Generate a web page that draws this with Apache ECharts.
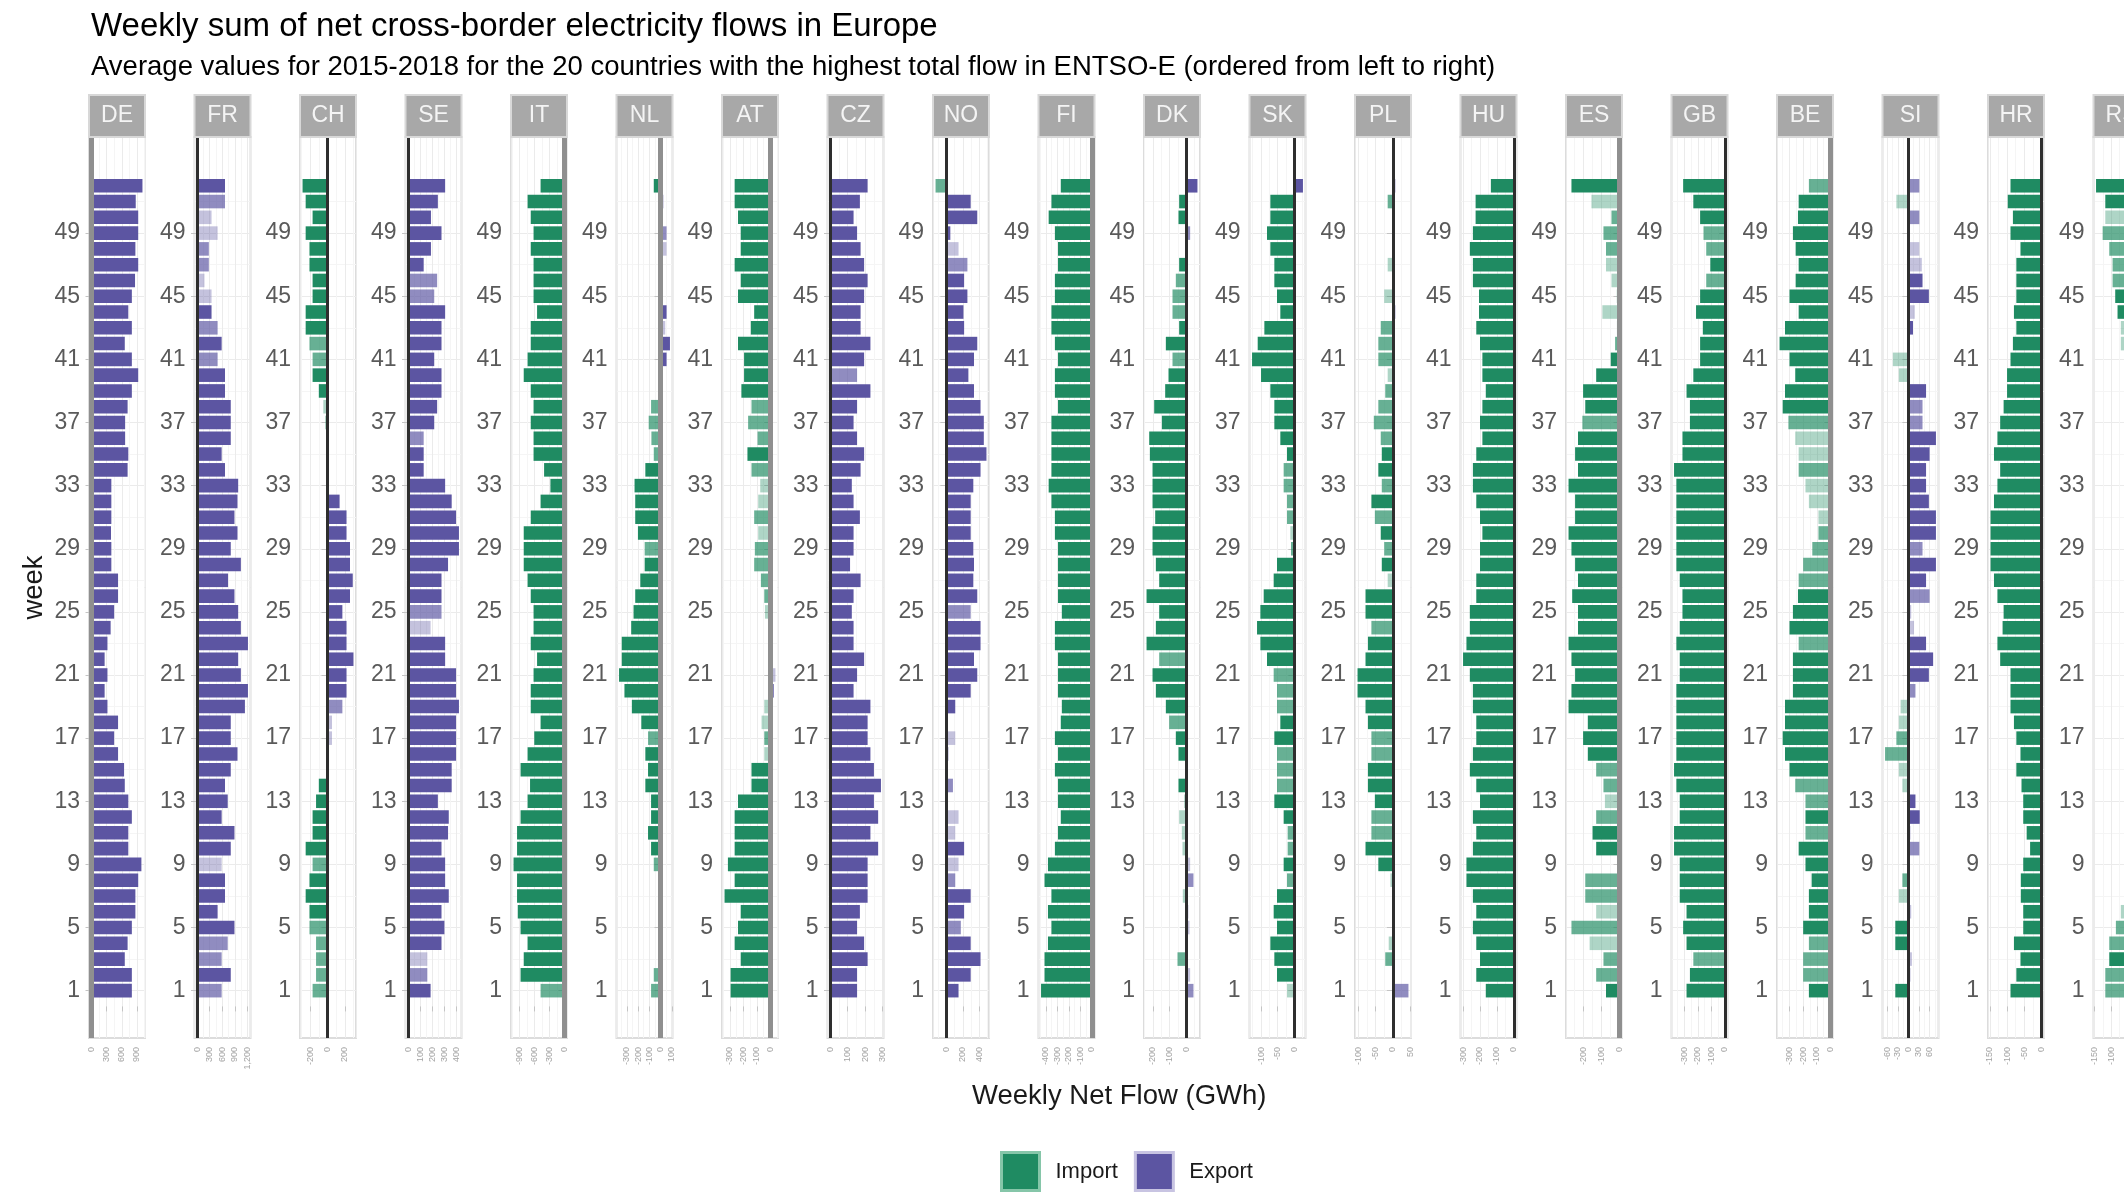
<!DOCTYPE html>
<html>
<head>
<meta charset="utf-8">
<script src="https://cdn.jsdelivr.net/npm/echarts@6/dist/echarts.min.js"></script>
<style>
html,body{margin:0;padding:0;background:#fff;}
#chart{width:2124px;height:1194px;}
</style>
</head>
<body>
<div id="chart"></div>
<script>
// ---------------- DATA ----------------
const countries = ['DE','FR','CH','SE','IT','NL','AT','CZ','NO','FI','DK','SK','PL','HU','ES','GB','BE','SI','HR','RS'];
const weeks = [1,2,3,4,5,6,7,8,9,10,11,12,13,14,15,16,17,18,19,20,21,22,23,24,25,26,27,28,29,30,31,32,33,34,35,36,37,38,39,40,41,42,43,44,45,46,47,48,49,50,51,52];
const majorWeekTicks = [1,5,9,13,17,21,25,29,33,37,41,45,49];
const minorWeekTicks = [3,7,11,15,19,23,27,31,35,39,43,47,51];

// weekly net flow (GWh), weeks 1..52; negative = import, positive = export
const flowDE = [798,798,658,714,798,868,868,924,987,728,728,798,728,658,644,525,448,525,315,259,315,259,315,378,448,525,525,392,392,385,392,392,392,714,728,665,665,714,798,924,798,658,798,728,798,861,924,868,924,924,875,1008];
const flowFR = [584,800,584,728,888,488,664,664,584,800,888,584,728,664,800,960,800,800,1136,1208,1040,976,1208,1040,976,888,736,1040,800,960,888,960,976,664,584,800,800,800,664,664,488,584,488,344,344,176,280,280,488,344,664,664];
const flowCH = [-172,-132,-132,-132,-208,-208,-252,-208,-172,-252,-172,-172,-132,-100,0,0,52,52,172,220,220,300,220,220,172,260,292,260,260,220,220,140,0,8,8,-12,-28,-48,-100,-172,-172,-208,-252,-252,-172,-172,-208,-208,-252,-172,-252,-288];
const flowSE = [186,159,159,276,300,276,336,306,306,276,330,336,246,360,360,396,396,396,420,396,396,306,306,186,276,276,276,330,420,420,396,360,306,129,129,129,216,240,276,276,216,276,276,306,216,240,129,189,276,189,246,306];
const flowIT = [-476,-875,-812,-735,-875,-931,-945,-945,-1015,-945,-945,-875,-735,-686,-875,-735,-602,-476,-672,-672,-616,-546,-672,-616,-616,-672,-735,-812,-812,-812,-672,-476,-280,-406,-616,-616,-672,-616,-672,-812,-735,-672,-672,-546,-616,-616,-616,-672,-616,-672,-735,-476];
const flowNL = [-84,-60,0,0,0,15,0,-21,-60,-84,-111,-84,-84,-135,-111,-135,-111,-171,-255,-321,-369,-345,-345,-261,-240,-225,-180,-141,-141,-201,-225,-225,-231,-135,-60,-81,-105,-84,0,0,54,84,42,54,0,15,15,54,54,18,24,-60];
const flowAT = [-295,-295,-220,-265,-240,-220,-340,-265,-315,-265,-265,-265,-240,-140,-140,-45,-45,-65,-45,25,38,0,0,0,-40,-45,-70,-120,-115,-90,-120,-90,-75,-140,-170,-95,-165,-140,-215,-195,-195,-240,-145,-120,-240,-220,-265,-220,-220,-240,-265,-265];
const flowCZ = [154,154,214,194,154,170,214,214,214,274,230,274,250,290,250,230,214,214,230,134,154,194,134,134,124,134,174,114,134,134,170,134,124,174,194,154,134,154,230,154,194,230,174,174,194,214,194,174,154,134,170,214];
const flowNO = [148,296,416,296,176,216,296,108,148,216,108,148,0,80,0,28,108,0,108,296,376,336,416,416,296,376,328,336,328,296,296,296,328,416,488,456,456,416,336,268,336,376,216,208,256,216,256,148,48,376,296,-132];
const flowFI = [-441,-411,-411,-381,-351,-381,-351,-411,-381,-321,-294,-270,-294,-294,-321,-294,-321,-270,-261,-294,-294,-294,-321,-321,-261,-294,-294,-294,-294,-321,-321,-351,-375,-351,-351,-351,-351,-294,-321,-321,-294,-321,-351,-351,-321,-321,-294,-294,-321,-375,-351,-270];
const flowDK = [44,24,-52,0,20,12,-20,44,24,-22,-26,-42,-12,-46,0,-46,-62,-102,-122,-182,-202,-162,-238,-182,-162,-238,-162,-182,-202,-202,-186,-202,-202,-202,-218,-222,-146,-192,-126,-106,-82,-122,-42,-82,-82,-62,-42,0,24,-46,-42,68];
const flowSK = [-22,-52,-60,-72,-52,-62,-52,-22,-32,-20,-20,-32,-60,-52,-52,-52,-60,-42,-52,-52,-62,-82,-102,-112,-102,-92,-62,-52,-10,-12,-22,-22,-32,-32,-22,-42,-60,-60,-72,-100,-127,-110,-90,-42,-52,-60,-60,-72,-82,-72,-72,26];
const flowPL = [45,0,-22,-12,0,0,0,-7,-42,-79,-62,-62,-52,-72,-72,-62,-62,-72,-79,-102,-102,-79,-72,-62,-79,-79,-15,-32,-25,-35,-52,-62,-32,-42,-32,-35,-55,-42,-22,-15,-42,-42,-35,8,-25,0,-15,0,6,0,-15,8];
const flowHU = [-166,-222,-200,-222,-242,-222,-242,-280,-280,-242,-222,-242,-200,-222,-260,-242,-222,-222,-242,-242,-260,-300,-280,-260,-260,-222,-222,-200,-200,-186,-200,-222,-242,-242,-222,-186,-200,-186,-166,-186,-186,-200,-222,-206,-206,-242,-242,-260,-242,-226,-226,-136];
const flowES = [-74,-128,-88,-164,-264,-128,-188,-188,0,-128,-148,-128,-80,-88,-128,-174,-200,-174,-280,-264,-244,-264,-280,-228,-228,-260,-228,-244,-264,-280,-244,-244,-280,-228,-244,-228,-204,-188,-200,-128,-48,-24,-14,-94,-14,-44,-74,-74,-88,-44,-154,-264];
const flowGB = [-283,-258,-233,-283,-308,-283,-333,-333,-333,-375,-375,-333,-333,-358,-375,-358,-358,-358,-358,-358,-333,-333,-358,-333,-313,-313,-333,-358,-358,-358,-358,-358,-358,-375,-313,-313,-258,-258,-283,-233,-183,-183,-163,-213,-183,-138,-108,-138,-158,-183,-233,-308];
const flowBE = [-158,-200,-200,-158,-200,-158,-158,-138,-183,-233,-183,-183,-183,-258,-300,-333,-350,-333,-333,-275,-275,-275,-233,-300,-275,-238,-233,-200,-133,-88,-88,-158,-183,-233,-233,-258,-308,-350,-333,-258,-300,-373,-333,-233,-300,-255,-233,-255,-275,-238,-233,-158];
const flowSI = [-37,6,10,-37,-37,8,-27,-17,0,31,6,32,20,-17,-27,-66,-34,-27,-22,20,58,70,50,16,8,60,50,78,40,78,78,58,50,50,60,78,40,40,50,-27,-44,0,13,18,58,40,38,31,0,31,-34,31];
const flowHR = [-90,-73,-61,-80,-53,-53,-60,-60,-53,-33,-43,-53,-53,-58,-73,-61,-73,-80,-90,-90,-90,-120,-128,-113,-110,-128,-138,-148,-148,-148,-148,-138,-128,-120,-138,-128,-120,-110,-100,-100,-90,-83,-73,-80,-73,-73,-73,-61,-90,-83,-98,-90];
const flowRS = [-118,-118,-106,-106,-86,-71,-45,-38,-30,-25,-20,-15,-20,-12,-8,-10,-15,-8,4,8,4,-4,-8,0,-8,-4,4,0,-8,-4,-10,-15,-18,-15,-20,-25,-22,-28,-32,-38,-45,-71,-71,-81,-88,-96,-96,-106,-126,-118,-118,-146];

// transparency level per week (1 = light, 2 = medium, 3 = solid), weeks 1..52
const alphaDE = '3333333333333333333333333333333333333333333333333333';
const alphaFR = '2322333313333333333333333333333333333333232311221123';
const alphaCH = '2222233323333333112333333333333333331133223333333333';
const alphaSE = '3213333333333333333333312333333333323333333322333333';
const alphaIT = '2333333333333333333333333333333333333333333333333333';
const alphaNL = '2233333323333333233333333333233333222223331333112333';
const alphaAT = '3333333333333331211313331222212112322233333333333333';
const alphaCZ = '3333333333333333333333333333333333333332333333333333';
const alphaNO = '3333233213113231133333332333333333333333333333213332';
const alphaFI = '3333333333333333333333333333333333333333333333333333';
const alphaDK = '2123131211111333323332333333333333333333233222322333';
const alphaSK = '1333333232233222332223333333212222333333333333333333';
const alphaPL = '2321333133223332233333323313232323322221222113131321';
const alphaHU = '3333333333333333333333333333333333333333333333333333';
const alphaES = '3221212233321223333333333333333333332333321131122213';
const alphaGB = '3323333333333333333333333333333333333333333332322333';
const alphaBE = '3222333333232233333333233322221112112333333333333332';
const alphaSI = '3113311232133112211233311233233333332231133133113212';
const alphaHR = '3333333333333333333333333333333333333333333333333333';
const alphaRS = '2232213333333333333333333333333333333333311332222133';

const titleText = 'Weekly sum of net cross-border electricity flows in Europe';
const subtitleText = 'Average values for 2015-2018 for the 20 countries with the highest total flow in ENTSO-E (ordered from left to right)';

// ---------------- LOOKUPS ----------------
const flowByCountry = {DE:flowDE,FR:flowFR,CH:flowCH,SE:flowSE,IT:flowIT,NL:flowNL,AT:flowAT,CZ:flowCZ,NO:flowNO,FI:flowFI,DK:flowDK,SK:flowSK,PL:flowPL,HU:flowHU,ES:flowES,GB:flowGB,BE:flowBE,SI:flowSI,HR:flowHR,RS:flowRS};
const alphaByCountry = {DE:alphaDE,FR:alphaFR,CH:alphaCH,SE:alphaSE,IT:alphaIT,NL:alphaNL,AT:alphaAT,CZ:alphaCZ,NO:alphaNO,FI:alphaFI,DK:alphaDK,SK:alphaSK,PL:alphaPL,HU:alphaHU,ES:alphaES,GB:alphaGB,BE:alphaBE,SI:alphaSI,HR:alphaHR,RS:alphaRS};

// ---------------- STYLE / LAYOUT ----------------
const FONT = '"Liberation Sans", Arial, Helvetica, sans-serif';
const GREEN = '#1f8b62', PURPLE = '#5c55a2';
const OPACITY = {1: 0.36, 2: 0.68, 3: 1};
const PANEL_X0 = 89, PANEL_DX = 105.5, PANEL_W = 56, PANEL_TOP = 137, PANEL_H = 901;
const STRIP_TOP = 95, STRIP_H = 42;
const WEEK_MIN = -2.0, WEEK_MAX = 55.09;
const BAR_HALF = 0.43;
const bandZero = ['DE','IT','NL','AT','FI','ES','BE'];

function padMin(v){ const lo = Math.min(0, v.min), hi = Math.max(0, v.max); return lo - (hi - lo) * 0.05; }
function padMax(v){ const lo = Math.min(0, v.min), hi = Math.max(0, v.max); return hi + (hi - lo) * 0.05; }

function makeRender(color){
  return function(params, api){
    const wk = api.value(0), v = api.value(1), a = api.value(2);
    const p0 = api.coord([0, wk + BAR_HALF]);
    const p1 = api.coord([v, wk - BAR_HALF]);
    return {
      type: 'rect',
      shape: {x: Math.min(p0[0], p1[0]), y: p0[1], width: Math.abs(p1[0] - p0[0]), height: p1[1] - p0[1]},
      style: {fill: color, opacity: OPACITY[a]}
    };
  };
}

const grids = [], xAxes = [], yAxes = [], series = [], graphics = [];

countries.forEach(function(c, i){
  const left = PANEL_X0 + PANEL_DX * i;
  const vals = flowByCountry[c], alph = alphaByCountry[c];
  grids.push({left: left, top: PANEL_TOP, width: PANEL_W, height: PANEL_H, show: true,
    backgroundColor: '#ffffff', borderColor: '#dcdcdc', borderWidth: 2, containLabel: false,
    outerBoundsMode: 'none'});
  xAxes.push({
    gridIndex: i, type: 'value', min: padMin, max: padMax, splitNumber: 4,
    axisLine: {show: false},
    axisTick: {show: true, length: 5, lineStyle: {color: '#c4c4c4'}},
    axisLabel: {fontSize: 9, rotate: 90, color: '#a4a4a4', margin: 9, showMinLabel: false, showMaxLabel: false, fontFamily: FONT},
    splitLine: {show: true, lineStyle: {color: '#ebebeb', width: 1}},
    minorTick: {show: false, splitNumber: 2},
    minorSplitLine: {show: true, lineStyle: {color: '#f5f5f5', width: 1}}
  });
  yAxes.push({
    gridIndex: i, type: 'value', min: WEEK_MIN, max: WEEK_MAX,
    axisLine: {show: false},
    axisTick: {show: true, length: 6, customValues: majorWeekTicks, lineStyle: {color: '#c4c4c4'}},
    axisLabel: {customValues: majorWeekTicks, fontSize: 23, color: '#5a5a5a', margin: 9, fontFamily: FONT},
    splitLine: {show: true, lineStyle: {color: '#ebebeb', width: 1}}
  });
  yAxes.push({
    gridIndex: i, type: 'value', min: WEEK_MIN, max: WEEK_MAX,
    axisLine: {show: false},
    axisTick: {show: false, customValues: minorWeekTicks},
    axisLabel: {show: false},
    splitLine: {show: true, lineStyle: {color: '#f5f5f5', width: 1}}
  });
  const imp = [], exp = [];
  weeks.forEach(function(w, k){
    const v = vals[k], a = Number(alph[k]);
    if (v < 0) imp.push([w, v, a]);
    else if (v > 0) exp.push([w, v, a]);
  });
  const zeroStyle = bandZero.indexOf(c) >= 0 ? {color: '#8f8f8f', width: 5, type: 'solid'} : {color: '#2e2e2e', width: 3, type: 'solid'};
  const mark = {silent: true, symbol: ['none','none'], label: {show: false}, lineStyle: zeroStyle, data: [{xAxis: 0}], animation: false};
  series.push({
    name: 'Import', type: 'custom', xAxisIndex: i, yAxisIndex: 2 * i,
    dimensions: ['week','flow','alpha'], encode: {x: 1, y: 0},
    itemStyle: {color: GREEN}, renderItem: makeRender(GREEN), data: imp, z: 2,
    markLine: imp.length ? mark : undefined
  });
  series.push({
    name: 'Export', type: 'custom', xAxisIndex: i, yAxisIndex: 2 * i,
    dimensions: ['week','flow','alpha'], encode: {x: 1, y: 0},
    itemStyle: {color: PURPLE}, renderItem: makeRender(PURPLE), data: exp, z: 2,
    markLine: imp.length ? undefined : mark
  });
  graphics.push({type: 'rect', shape: {x: left, y: STRIP_TOP, width: PANEL_W, height: STRIP_H},
    style: {fill: '#a8a8a8', stroke: '#d8d8d8', lineWidth: 2}, z: 10});
  graphics.push({type: 'text', x: left + PANEL_W / 2, y: STRIP_TOP + STRIP_H / 2, z: 11,
    style: {text: c, fill: '#f4f4f4', fontSize: 23, fontFamily: FONT, align: 'center', verticalAlign: 'middle', textAlign: 'center', textVerticalAlign: 'middle'}});
});

graphics.push({type: 'text', x: PANEL_X0 + (PANEL_DX * (countries.length - 1) + PANEL_W) / 2, y: 1096, z: 11,
  style: {text: 'Weekly Net Flow (GWh)', fill: '#1a1a1a', fontSize: 27.5, fontFamily: FONT, align: 'center', verticalAlign: 'middle', textAlign: 'center', textVerticalAlign: 'middle'}});
graphics.push({type: 'text', x: 34, y: PANEL_TOP + PANEL_H / 2, rotation: Math.PI / 2, z: 11,
  style: {text: 'week', fill: '#1a1a1a', fontSize: 27.5, fontFamily: FONT, align: 'center', verticalAlign: 'middle', textAlign: 'center', textVerticalAlign: 'middle'}});

const option = {
  backgroundColor: '#ffffff',
  animation: false,
  textStyle: {fontFamily: FONT},
  title: [
    {text: titleText, left: 91, top: 10, padding: 0, textStyle: {fontSize: 33, fontWeight: 'normal', color: '#000000', fontFamily: FONT}},
    {text: subtitleText, left: 91, top: 53, padding: 0, textStyle: {fontSize: 27.5, fontWeight: 'normal', color: '#000000', fontFamily: FONT}}
  ],
  legend: {
    left: 995, top: 1146, itemWidth: 38, itemHeight: 38, itemGap: 16, icon: 'rect', selectedMode: false,
    textStyle: {fontSize: 22, color: '#1a1a1a', fontFamily: FONT, padding: [0, 0, 0, 11]},
    data: [
      {name: 'Import', itemStyle: {color: GREEN, borderColor: '#86c6a9', borderWidth: 3}},
      {name: 'Export', itemStyle: {color: PURPLE, borderColor: '#c8c4e2', borderWidth: 3}}
    ]
  },
  grid: grids,
  xAxis: xAxes,
  yAxis: yAxes,
  series: series,
  graphic: {elements: graphics}
};

const chart = echarts.init(document.getElementById('chart'), null, {renderer: 'canvas', width: 2124, height: 1194});
chart.setOption(option);
</script>
</body>
</html>
